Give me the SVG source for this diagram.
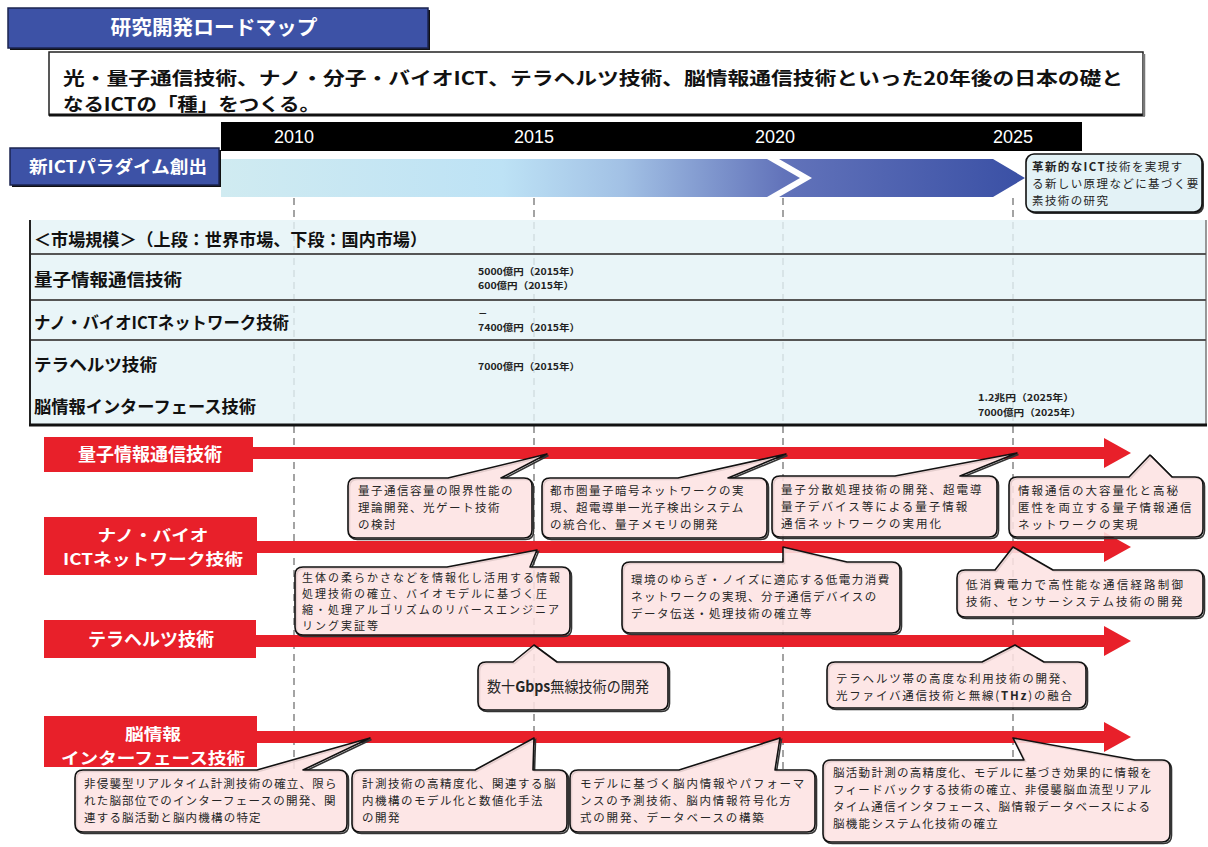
<svg xmlns="http://www.w3.org/2000/svg" width="1208" height="847" viewBox="0 0 1208 847">
<defs>
<linearGradient id="band" gradientUnits="userSpaceOnUse" x1="221" y1="0" x2="1025" y2="0">
<stop offset="0" stop-color="#d0ebf1"/>
<stop offset="0.35" stop-color="#bde2f5"/>
<stop offset="0.5" stop-color="#a2c1e5"/>
<stop offset="0.7" stop-color="#6273ba"/>
<stop offset="1" stop-color="#3a50a5"/>
</linearGradient>
<style>
.jp{font-family:"Noto Sans CJK JP","Noto Sans",sans-serif;}
.lat{font-family:"Liberation Sans",Arial,sans-serif;}
.blue{fill:#3d52a6;stroke:#1b2450;stroke-width:1.5;}
.shadow{fill:#111;}
.grid{stroke:#a3a3a3;stroke-width:2;stroke-dasharray:7 5;fill:none;}
.red{fill:#e8202a;}
.lab{font-size:18px;font-weight:bold;fill:#fff;text-anchor:middle;}
.lab2{font-size:16px;font-weight:bold;fill:#fff;text-anchor:middle;}
.co{fill:#fde3e3;fill-opacity:0.88;stroke:#111;stroke-width:1.6;stroke-linejoin:round;}
.cosh{fill:none;stroke:#333;stroke-width:1.6;}
.ct{font-size:11.5px;letter-spacing:1.5px;fill:#262626;}
.ct4{font-size:11px;letter-spacing:2px;fill:#262626;}
.sep{stroke:#555;stroke-width:2;}
.rowlab{font-size:17px;font-weight:bold;fill:#111;}
.val{font-size:9.5px;font-weight:bold;fill:#222;}
.yr{font-size:18px;fill:#fff;text-anchor:middle;}
</style>
</defs>

<rect width="1208" height="847" fill="#fff"/>

<g id="title">
<rect x="10" y="10" width="420" height="40" class="shadow"/>
<rect x="8" y="8" width="420" height="40" class="blue"/>
<text x="214" y="35" class="jp" font-size="20" font-weight="bold" fill="#fff" text-anchor="middle" textLength="207" lengthAdjust="spacingAndGlyphs">研究開発ロードマップ</text>
</g>

<g id="statement">
<rect x="49" y="52" width="1094" height="63" fill="#fff" stroke="#222" stroke-width="1.5"/>
<line x1="49" y1="115" x2="1145" y2="115" stroke="#111" stroke-width="3"/>
<line x1="1144" y1="54" x2="1144" y2="116" stroke="#777" stroke-width="2.5"/>
<text class="jp" font-size="18" font-weight="bold" fill="#111"><tspan x="63" y="85" textLength="1060" lengthAdjust="spacingAndGlyphs">光・量子通信技術、ナノ・分子・バイオICT、テラヘルツ技術、脳情報通信技術といった20年後の日本の礎と</tspan><tspan x="63" y="111" textLength="257" lengthAdjust="spacingAndGlyphs">なるICTの「種」をつくる。</tspan></text>
</g>

<g id="timeline">
<rect x="221" y="122" width="861" height="29" fill="#000"/>
<text x="294" y="143" class="lat yr">2010</text>
<text x="534" y="143" class="lat yr">2015</text>
<text x="775" y="143" class="lat yr">2020</text>
<text x="1013" y="143" class="lat yr">2025</text>
</g>

<g id="paradigm">
<rect x="12" y="150" width="209" height="37" class="shadow"/>
<rect x="10" y="148" width="209" height="37" class="blue"/>
<text x="118" y="173" class="jp" font-size="17" font-weight="bold" fill="#fff" text-anchor="middle" textLength="178" lengthAdjust="spacingAndGlyphs">新ICTパラダイム創出</text>
</g>

<g id="band-arrow">
<polygon points="221,159 767,159 800,178 767,197 221,197" fill="url(#band)"/>
<polygon points="779,159 993,159 1025,178 993,197 779,197 812,178" fill="url(#band)"/>
</g>

<g id="gridlines">
<line x1="294" y1="198" x2="294" y2="772" class="grid"/>
<line x1="534" y1="198" x2="534" y2="772" class="grid"/>
<line x1="783" y1="198" x2="783" y2="772" class="grid"/>
<line x1="1013" y1="198" x2="1013" y2="762" class="grid"/>
</g>

<g id="topright-note">
<rect x="1028" y="156" width="176" height="58" rx="8" fill="#333"/>
<rect x="1026" y="154" width="176" height="58" rx="8" fill="#e3f2f6" stroke="#111" stroke-width="1.6"/>
<text class="jp ct" style="letter-spacing:1.4px"><tspan x="1032" y="171"><tspan font-weight="bold">革新的なICT</tspan>技術を実現す</tspan><tspan x="1032" y="188">る新しい原理などに基づく要</tspan><tspan x="1032" y="205">素技術の研究</tspan></text>
</g>

<g id="market-table">
<rect x="30" y="220" width="1176" height="205" fill="#e4f3f7" fill-opacity="0.82"/>
<line x1="30" y1="220" x2="30" y2="426" stroke="#222" stroke-width="2"/>
<line x1="1206" y1="220" x2="1206" y2="426" stroke="#777" stroke-width="1.5"/>
<line x1="29" y1="425" x2="1207" y2="425" stroke="#111" stroke-width="3"/>
<line x1="31" y1="254" x2="1206" y2="254" class="sep"/>
<line x1="31" y1="300" x2="1206" y2="300" class="sep"/>
<line x1="31" y1="340" x2="1206" y2="340" class="sep"/>
<text x="34" y="246" class="jp" font-size="17" font-weight="bold" fill="#111" textLength="393" lengthAdjust="spacingAndGlyphs">＜市場規模＞（上段：世界市場、下段：国内市場）</text>
<text x="34" y="286" class="jp rowlab" textLength="148" lengthAdjust="spacingAndGlyphs">量子情報通信技術</text>
<text x="34" y="329" class="jp rowlab" textLength="255" lengthAdjust="spacingAndGlyphs">ナノ・バイオICTネットワーク技術</text>
<text x="34" y="371" class="jp rowlab" textLength="123" lengthAdjust="spacingAndGlyphs">テラヘルツ技術</text>
<text x="34" y="413" class="jp rowlab" textLength="222" lengthAdjust="spacingAndGlyphs">脳情報インターフェース技術</text>
<text class="jp val"><tspan x="478" y="275" textLength="102" lengthAdjust="spacingAndGlyphs">5000億円（2015年）</tspan><tspan x="478" y="289" textLength="96" lengthAdjust="spacingAndGlyphs">600億円（2015年）</tspan></text>
<text class="jp val"><tspan x="478" y="317">－</tspan><tspan x="478" y="331" textLength="102" lengthAdjust="spacingAndGlyphs">7400億円（2015年）</tspan></text>
<text x="478" y="370" class="jp val" textLength="102" lengthAdjust="spacingAndGlyphs">7000億円（2015年）</text>
<text class="jp val"><tspan x="978" y="401" textLength="96" lengthAdjust="spacingAndGlyphs">1.2兆円（2025年）</tspan><tspan x="978" y="416" textLength="103" lengthAdjust="spacingAndGlyphs">7000億円（2025年）</tspan></text>
</g>

<g id="connectors">
<rect x="253" y="447" width="852" height="12" class="red"/>
<polygon points="1104,438 1131,453 1104,468" class="red"/>
<rect x="256" y="541" width="849" height="12" class="red"/>
<polygon points="1104,532 1131,547 1104,562" class="red"/>
<rect x="255" y="635" width="850" height="12" class="red"/>
<polygon points="1104,626 1131,641 1104,656" class="red"/>
<rect x="256" y="731" width="849" height="12" class="red"/>
<polygon points="1104,722 1131,737 1104,752" class="red"/>
</g>

<g id="row-quantum">
<rect x="44" y="437" width="209" height="35" class="red"/>
<text x="150" y="461" class="jp lab">量子情報通信技術</text>
</g>
<g id="row-nanobio">
<rect x="44" y="517" width="213" height="58" class="red"/>
<text class="jp lab2"><tspan x="153" y="541" textLength="111" lengthAdjust="spacingAndGlyphs">ナノ・バイオ</tspan><tspan x="153" y="565" textLength="180" lengthAdjust="spacingAndGlyphs">ICTネットワーク技術</tspan></text>
</g>
<g id="row-terahertz">
<rect x="44" y="620" width="212" height="38" class="red"/>
<text x="151" y="646" class="jp lab">テラヘルツ技術</text>
</g>
<g id="row-brain">
<rect x="44" y="716" width="213" height="51" class="red"/>
<text class="jp lab2"><tspan x="153" y="740" textLength="56" lengthAdjust="spacingAndGlyphs">脳情報</tspan><tspan x="153" y="764" textLength="184" lengthAdjust="spacingAndGlyphs">インターフェース技術</tspan></text>
</g>

<g id="q1">
<path class="cosh" transform="translate(1.5,1.5)" d="M356,478 H448 L547,454 L501,478 H524 Q532,478 532,486 V530 Q532,538 524,538 H356 Q348,538 348,530 V486 Q348,478 356,478 Z"/>
<path class="co" d="M356,478 H448 L547,454 L501,478 H524 Q532,478 532,486 V530 Q532,538 524,538 H356 Q348,538 348,530 V486 Q348,478 356,478 Z"/>
<text class="jp ct"><tspan x="358" y="495">量子通信容量の限界性能の</tspan><tspan x="358" y="512">理論開発、光ゲート技術</tspan><tspan x="358" y="529">の検討</tspan></text>
</g>
<g id="q2">
<path class="cosh" transform="translate(1.5,1.5)" d="M550,478 H678 L786,454 L728,478 H759 Q767,478 767,486 V530 Q767,538 759,538 H550 Q542,538 542,530 V486 Q542,478 550,478 Z"/>
<path class="co" d="M550,478 H678 L786,454 L728,478 H759 Q767,478 767,486 V530 Q767,538 759,538 H550 Q542,538 542,530 V486 Q542,478 550,478 Z"/>
<text class="jp ct"><tspan x="550" y="495">都市圏量子暗号ネットワークの実</tspan><tspan x="550" y="512">現、超電導単一光子検出システム</tspan><tspan x="550" y="529">の統合化、量子メモリの開発</tspan></text>
</g>
<g id="q3">
<path class="cosh" transform="translate(1.5,1.5)" d="M780,476 H895 L1017,453 L960,476 H989 Q997,476 997,484 V529 Q997,537 989,537 H780 Q772,537 772,529 V484 Q772,476 780,476 Z"/>
<path class="co" d="M780,476 H895 L1017,453 L960,476 H989 Q997,476 997,484 V529 Q997,537 989,537 H780 Q772,537 772,529 V484 Q772,476 780,476 Z"/>
<text class="jp ct" style="letter-spacing:2px"><tspan x="781" y="494">量子分散処理技術の開発、超電導</tspan><tspan x="781" y="511">量子デバイス等による量子情報</tspan><tspan x="781" y="528">通信ネットワークの実用化</tspan></text>
</g>
<g id="q4">
<path class="cosh" transform="translate(1.5,1.5)" d="M1017,477 H1129 L1150,455 L1172,477 H1195 Q1203,477 1203,485 V529 Q1203,537 1195,537 H1017 Q1009,537 1009,529 V485 Q1009,477 1017,477 Z"/>
<path class="co" d="M1017,477 H1129 L1150,455 L1172,477 H1195 Q1203,477 1203,485 V529 Q1203,537 1195,537 H1017 Q1009,537 1009,529 V485 Q1009,477 1017,477 Z"/>
<text class="jp ct" style="letter-spacing:2px"><tspan x="1018" y="495">情報通信の大容量化と高秘</tspan><tspan x="1018" y="512">匿性を両立する量子情報通信</tspan><tspan x="1018" y="529">ネットワークの実現</tspan></text>
</g>

<g id="n1">
<path class="cosh" transform="translate(1.5,1.5)" d="M303,567 H447 L537,550 L530,567 H562 Q570,567 570,575 V627 Q570,635 562,635 H303 Q295,635 295,627 V575 Q295,567 303,567 Z"/>
<path class="co" d="M303,567 H447 L537,550 L530,567 H562 Q570,567 570,575 V627 Q570,635 562,635 H303 Q295,635 295,627 V575 Q295,567 303,567 Z"/>
<text class="jp ct4"><tspan x="302" y="582">生体の柔らかさなどを情報化し活用する情報</tspan><tspan x="302" y="598">処理技術の確立、バイオモデルに基づく圧</tspan><tspan x="302" y="614">縮・処理アルゴリズムのリバースエンジニア</tspan><tspan x="302" y="630">リング実証等</tspan></text>
</g>
<g id="n2">
<path class="cosh" transform="translate(1.5,1.5)" d="M630,562 H783 L783,547 L847,562 H892 Q900,562 900,570 V625 Q900,633 892,633 H630 Q622,633 622,625 V570 Q622,562 630,562 Z"/>
<path class="co" d="M630,562 H783 L783,547 L847,562 H892 Q900,562 900,570 V625 Q900,633 892,633 H630 Q622,633 622,625 V570 Q622,562 630,562 Z"/>
<text class="jp ct" style="letter-spacing:1.5px"><tspan x="631" y="584">環境のゆらぎ・ノイズに適応する低電力消費</tspan><tspan x="631" y="601">ネットワークの実現、分子通信デバイスの</tspan><tspan x="631" y="618">データ伝送・処理技術の確立等</tspan></text>
</g>
<g id="n3">
<path class="cosh" transform="translate(1.5,1.5)" d="M965,570 H995 L1013,547 L1053,570 H1195 Q1203,570 1203,578 V609 Q1203,617 1195,617 H965 Q957,617 957,609 V578 Q957,570 965,570 Z"/>
<path class="co" d="M965,570 H995 L1013,547 L1053,570 H1195 Q1203,570 1203,578 V609 Q1203,617 1195,617 H965 Q957,617 957,609 V578 Q957,570 965,570 Z"/>
<text class="jp ct" style="letter-spacing:2.2px"><tspan x="966" y="589">低消費電力で高性能な通信経路制御</tspan><tspan x="966" y="606">技術、センサーシステム技術の開発</tspan></text>
</g>

<g id="t1">
<path class="cosh" transform="translate(1.5,1.5)" d="M486,662 H513 L534,645 L557,662 H660 Q668,662 668,670 V702 Q668,710 660,710 H486 Q478,710 478,702 V670 Q478,662 486,662 Z"/>
<path class="co" d="M486,662 H513 L534,645 L557,662 H660 Q668,662 668,670 V702 Q668,710 660,710 H486 Q478,710 478,702 V670 Q478,662 486,662 Z"/>
<text class="jp" fill="#262626" x="487" y="692" font-size="15" textLength="162" lengthAdjust="spacingAndGlyphs">数十<tspan font-weight="bold">Gbps</tspan>無線技術の開発</text>
</g>
<g id="t2">
<path class="cosh" transform="translate(1.5,1.5)" d="M835,662 H982 L1015,645 L1044,662 H1078 Q1086,662 1086,670 V700 Q1086,708 1078,708 H835 Q827,708 827,700 V670 Q827,662 835,662 Z"/>
<path class="co" d="M835,662 H982 L1015,645 L1044,662 H1078 Q1086,662 1086,670 V700 Q1086,708 1078,708 H835 Q827,708 827,700 V670 Q827,662 835,662 Z"/>
<text class="jp ct" style="letter-spacing:1.8px"><tspan x="836" y="683">テラヘルツ帯の高度な利用技術の開発、</tspan><tspan x="836" y="700">光ファイバ通信技術と無線(<tspan font-weight="bold">THz</tspan>)の融合</tspan></text>
</g>

<g id="b1">
<path class="cosh" transform="translate(1.5,1.5)" d="M83,770 H257 L370,738 L303,770 H339 Q347,770 347,778 V824 Q347,832 339,832 H83 Q75,832 75,824 V778 Q75,770 83,770 Z"/>
<path class="co" d="M83,770 H257 L370,738 L303,770 H339 Q347,770 347,778 V824 Q347,832 339,832 H83 Q75,832 75,824 V778 Q75,770 83,770 Z"/>
<text class="jp ct" style="letter-spacing:1.2px"><tspan x="84" y="788">非侵襲型リアルタイム計測技術の確立、限ら</tspan><tspan x="84" y="805">れた脳部位でのインターフェースの開発、関</tspan><tspan x="84" y="822">連する脳活動と脳内機構の特定</tspan></text>
</g>
<g id="b2">
<path class="cosh" transform="translate(1.5,1.5)" d="M360,770 H475 L534,738 L533,770 H559 Q567,770 567,778 V824 Q567,832 559,832 H360 Q352,832 352,824 V778 Q352,770 360,770 Z"/>
<path class="co" d="M360,770 H475 L534,738 L533,770 H559 Q567,770 567,778 V824 Q567,832 559,832 H360 Q352,832 352,824 V778 Q352,770 360,770 Z"/>
<text class="jp ct"><tspan x="362" y="788">計測技術の高精度化、関連する脳</tspan><tspan x="362" y="805">内機構のモデル化と数値化手法</tspan><tspan x="362" y="822">の開発</tspan></text>
</g>
<g id="b3">
<path class="cosh" transform="translate(1.5,1.5)" d="M578,770 H679 L780,738 L775,770 H807 Q815,770 815,778 V824 Q815,832 807,832 H578 Q570,832 570,824 V778 Q570,770 578,770 Z"/>
<path class="co" d="M578,770 H679 L780,738 L775,770 H807 Q815,770 815,778 V824 Q815,832 807,832 H578 Q570,832 570,824 V778 Q570,770 578,770 Z"/>
<text class="jp ct" style="letter-spacing:1.8px"><tspan x="580" y="788">モデルに基づく脳内情報やパフォーマ</tspan><tspan x="580" y="805">ンスの予測技術、脳内情報符号化方</tspan><tspan x="580" y="822">式の開発、データベースの構築</tspan></text>
</g>
<g id="b4">
<path class="cosh" transform="translate(1.5,1.5)" d="M831,760 H1024 L1013,738 L1135,760 H1162 Q1170,760 1170,768 V834 Q1170,842 1162,842 H831 Q823,842 823,834 V768 Q823,760 831,760 Z"/>
<path class="co" d="M831,760 H1024 L1013,738 L1135,760 H1162 Q1170,760 1170,768 V834 Q1170,842 1162,842 H831 Q823,842 823,834 V768 Q823,760 831,760 Z"/>
<text class="jp ct" style="letter-spacing:1.3px"><tspan x="833" y="777">脳活動計測の高精度化、モデルに基づき効果的に情報を</tspan><tspan x="833" y="794">フィードバックする技術の確立、非侵襲脳血流型リアル</tspan><tspan x="833" y="811">タイム通信インタフェース、脳情報データベースによる</tspan><tspan x="833" y="828">脳機能システム化技術の確立</tspan></text>
</g>
</svg>
